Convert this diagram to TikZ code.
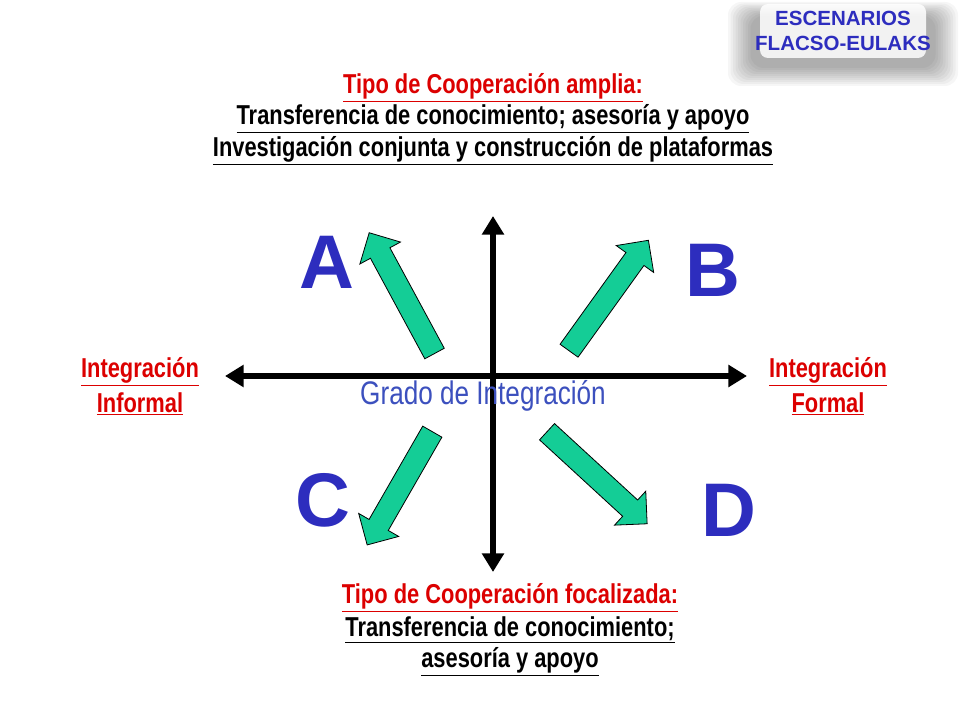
\documentclass[tikz,border=0pt]{standalone}
\usepackage{fontspec}
\setmainfont{Liberation Sans}
\newfontfamily\narrow[FakeStretch=0.8]{Liberation Sans}
\usetikzlibrary{shapes.arrows,arrows.meta}
\definecolor{ared}{RGB}{220,0,0}
\definecolor{ablue}{RGB}{45,45,190}
\definecolor{gblue}{RGB}{60,80,190}
\definecolor{agreen}{RGB}{20,205,150}
\tikzset{
 redlab/.style={text=ared,font=\narrow\bfseries\fontsize{20.5}{24}\selectfont,inner sep=1pt},
 blklab/.style={text=black,font=\narrow\bfseries\fontsize{20.5}{24}\selectfont,inner sep=1pt},
 letter/.style={text=ablue,font=\bfseries\fontsize{57}{57}\selectfont},
 garrow/.style={single arrow,draw=black,fill=agreen,line width=0.6pt,minimum width=34pt,single arrow head extend=9pt,single arrow head indent=0pt,inner sep=0pt},
 axis/.style={line width=5pt,-{Triangle[length=14pt,width=16pt]}},
 glow/.style={fill=black,fill opacity=0.035,draw=none,rounded corners=10pt},
}
\newcommand{\shaft}{\rule{0pt}{16pt}}
\begin{document}
\begin{tikzpicture}[x=0.75pt,y=-0.75pt]
\useasboundingbox[fill=white] (0,0) rectangle (960,720);
% box glow
\foreach \i in {0,...,9}{
  \fill[glow] (728+2.5*\i,2+1.5*\i) rectangle (958-2.5*\i,86-2*\i);
}
\fill[white,rounded corners=6pt,fill opacity=0.85] (760,4) rectangle (926,58);
\node[text=ablue,font=\bfseries\fontsize{15.4}{19}\selectfont,align=center] (esc) at (843,31) {ESCENARIOS\\FLACSO-EULAKS};
% top texts
\node[redlab] (t1) at (493,88) {\underline{Tipo de Cooperación amplia:}};
\node[blklab] (t2) at (493,119) {\underline{Transferencia de conocimiento; asesoría y apoyo}};
\node[blklab] (t3) at (493,151) {\underline{Investigación conjunta y construcción de plataformas}};
% bottom
\node[redlab] (b1) at (510,598) {\underline{Tipo de Cooperación focalizada:}};
\node[blklab] (b2) at (510,630) {\underline{Transferencia de conocimiento;}};
\node[blklab] (b3) at (510,662) {\underline{asesoría y apoyo}};
% sides
\node[redlab] (l1) at (140,372) {\underline{Integración}};
\node[redlab] (l2) at (140,404) {\underline{Informal}};
\node[redlab] (r1) at (828,372) {\underline{Integración}};
\node[redlab] (r2) at (828,404) {\underline{Formal}};
% axes
\coordinate (c) at (493,376);
\coordinate (W) at (225,376);
\coordinate (E) at (747,376);
\coordinate (N) at (493,216);
\coordinate (S) at (493,572);
\draw[axis] (c) -- (W);
\draw[axis] (c) -- (E);
\draw[axis] (c) -- (N);
\draw[axis] (c) -- (S);
\node[text=gblue,font=\narrow\fontsize{24.5}{28}\selectfont] (g) at (483,396) {Grado de Integración};
% green arrows
\node[garrow,minimum height=103pt,rotate=118.4] (aA) at (404.5,298) {\shaft};
\node[garrow,minimum height=102pt,rotate=54.3] (aB) at (605.5,300) {\shaft};
\node[garrow,minimum height=98pt,rotate=240.1] (aC) at (402.5,483.5) {\shaft};
\node[garrow,minimum height=102pt,rotate=317.4] (aD) at (593,474) {\shaft};
% letters
\node[letter] (A) at (327,262) {A};
\node[letter] (B) at (713,270) {B};
\node[letter] (C) at (323,500) {C};
\node[letter] (D) at (729,510) {D};
\end{tikzpicture}
\end{document}
